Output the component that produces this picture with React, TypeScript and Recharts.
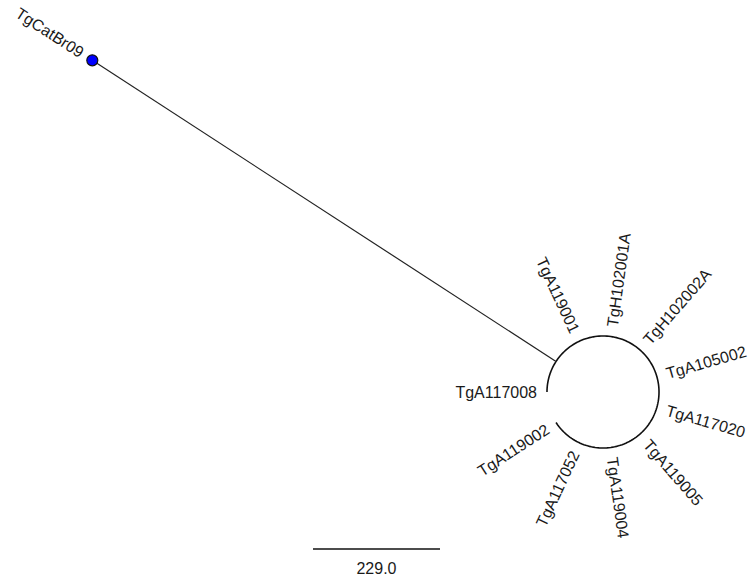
import { ScatterChart, Scatter, XAxis, YAxis } from 'recharts'

// leaf taxa, in layout order (equal-angle radial tree)
const leafNames = [
  'TgA117008', 'TgCatBr09', 'TgA119001', 'TgH102001A', 'TgH102002A', 'TgA105002',
  'TgA117020', 'TgA119005', 'TgA119004', 'TgA117052', 'TgA119002',
]
// angle of each leaf around the cluster centre, degrees (counter-clockwise from east)
const leafAngles = [180, 147, 115, 82, 49, 16, -16, -49, -82, -115, -147]
// distance from cluster centre, in branch-length units
const leafDistances = [101, 1098, 101, 101, 101, 101, 101, 101, 101, 101, 101]
const outgroup = 'TgCatBr09'
const scaleBarValue = 229.0

const W = 753
const H = 583
const K = scaleBarValue / 127 // units per pixel
const CX = 603
const CY = 392
const DEG = Math.PI / 180
const FONT = "'Liberation Sans', Arial, sans-serif"

const polar = (r: number, a: number) => ({ x: r * Math.cos(a * DEG), y: r * Math.sin(a * DEG) })

const clusterR = leafDistances[0]
const outIdx = leafNames.indexOf(outgroup)

// arc joining the cluster leaves (clockwise from first to last leaf)
const arcStart = leafAngles[0]
const arcEnd = leafAngles[leafAngles.length - 1] + 360
const arcPts: { x: number; y: number }[] = []
for (let a = arcStart; a >= arcEnd - 360; a -= 2) arcPts.push(polar(clusterR, a))
arcPts.push(polar(clusterR, arcEnd - 360))

const branchPts = [
  polar(clusterR, leafAngles[outIdx]),
  polar(leafDistances[outIdx], leafAngles[outIdx]),
]
const tipPts = [{ ...polar(leafDistances[outIdx], leafAngles[outIdx]) }]

const labelPts = leafNames.map((name, i) => {
  const gap = i === outIdx ? 12 : 10
  return { ...polar(leafDistances[i] + gap * K, leafAngles[i]), name, angle: leafAngles[i] }
})

const barY = (CY - 549) * K
const barX0 = (313 - CX) * K
const scalePts = [{ x: barX0, y: barY }, { x: barX0 + scaleBarValue, y: barY }]
const scaleLabelPts = [{ x: barX0 + scaleBarValue / 2, y: barY, label: scaleBarValue.toFixed(1) }]

const Empty = () => <g />

const LeafLabel = (props: any) => {
  const { cx, cy, payload } = props
  const a = payload.angle
  const flip = Math.abs(a) > 90
  const rot = flip ? 180 - a : -a
  return (
    <text
      x={cx} y={cy}
      transform={`rotate(${rot} ${cx} ${cy})`}
      textAnchor={flip ? 'end' : 'start'}
      dominantBaseline="central"
      fontFamily={FONT} fontSize={16} fill="#1a1a1a"
    >
      {payload.name}
    </text>
  )
}

const ScaleLabel = (props: any) => {
  const { cx, cy, payload } = props
  return (
    <text x={cx} y={cy + 19} textAnchor="middle" dominantBaseline="central"
      fontFamily={FONT} fontSize={16} fill="#1a1a1a">
      {payload.label}
    </text>
  )
}

const TipDot = (props: any) => {
  const { cx, cy } = props
  return <circle cx={cx} cy={cy} r={5.5} fill="#0000ff" stroke="#111" strokeWidth={1.2} />
}

export default function App() {
  return (
    <div style={{ width: W, height: H, background: '#fff' }}>
      <style>{'body{margin:0}'}</style>
      <ScatterChart width={W} height={H} margin={{ top: 0, right: 0, bottom: 0, left: 0 }}>
        <XAxis type="number" dataKey="x" hide allowDataOverflow domain={[-CX * K, (W - CX) * K]} />
        <YAxis type="number" dataKey="y" hide allowDataOverflow domain={[-(H - CY) * K, CY * K]} />
        <Scatter data={arcPts} line={{ stroke: '#111', strokeWidth: 1.6 }} shape={Empty} isAnimationActive={false} />
        <Scatter data={branchPts} line={{ stroke: '#222', strokeWidth: 1.2 }} shape={Empty} isAnimationActive={false} />
        <Scatter data={scalePts} line={{ stroke: '#111', strokeWidth: 1.5 }} shape={Empty} isAnimationActive={false} />
        <Scatter data={tipPts} shape={TipDot} isAnimationActive={false} />
        <Scatter data={labelPts} shape={LeafLabel} isAnimationActive={false} />
        <Scatter data={scaleLabelPts} shape={ScaleLabel} isAnimationActive={false} />
      </ScatterChart>
    </div>
  )
}
